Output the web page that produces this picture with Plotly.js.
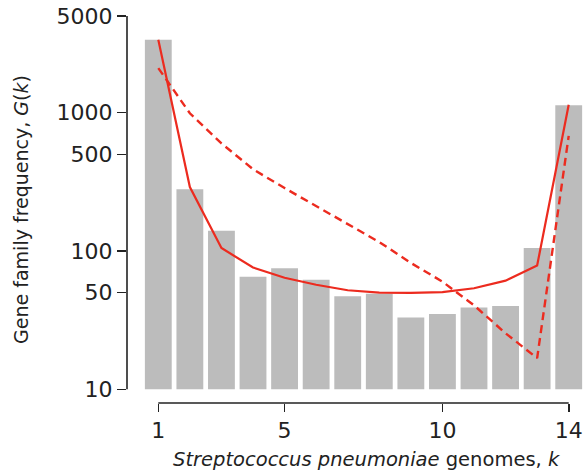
<!DOCTYPE html>
<html>
<head>
<meta charset="utf-8">
<script src="https://cdn.plot.ly/plotly-3.0.1.min.js"></script>
<style>html,body{margin:0;padding:0;background:#fff;}#chart{width:585px;height:473px;}</style>
</head>
<body>
<div id="chart"></div>
<script>
// Data
const k = [1, 2, 3, 4, 5, 6, 7, 8, 9, 10, 11, 12, 13, 14];
const observed = [3370, 280, 140, 65, 75, 62, 47, 49, 33, 35, 39, 40, 105, 1130];
const modelSolid = [3370, 290, 105, 76, 64, 57, 52, 50, 49.8, 50.5, 53.8, 61, 78.5, 1140];
const modelDashed = [2100, 990, 600, 390, 285, 212, 157, 116, 82, 60, 40.5, 25.4, 16.8, 680];
const yTicks = [10, 50, 100, 500, 1000, 5000];
const xTicks = [1, 5, 10, 14];
const barBase = 10;
const xTitle = '<i>Streptococcus pneumoniae</i> genomes, <i>k</i>';
const yTitle = 'Gene family frequency, <i>G</i>(<i>k</i>)';

const red = '#ec2b1f';
const ink = '#222222';

const traces = [
  {
    type: 'bar', x: k, y: observed.map(v => v - barBase), base: barBase,
    width: 0.85, marker: {color: '#bcbcbc', line: {width: 0}}, hoverinfo: 'skip'
  },
  {
    type: 'scatter', mode: 'lines', x: k, y: modelSolid,
    line: {color: red, width: 2.2}, hoverinfo: 'skip'
  },
  {
    type: 'scatter', mode: 'lines', x: k, y: modelDashed,
    line: {color: red, width: 2.4, dash: '8px,5px'}, hoverinfo: 'skip'
  }
];

const layout = {
  width: 585, height: 473,
  margin: {l: 127, r: 0, t: 16, b: 70},
  paper_bgcolor: '#fff', plot_bgcolor: '#fff',
  showlegend: false,
  font: {family: 'DejaVu Sans, sans-serif', color: ink},
  xaxis: {
    range: [0.0086, 14.516], tickvals: xTicks, ticktext: xTicks.map(String),
    ticks: 'outside', ticklen: 8, tickwidth: 1.6, tickcolor: ink,
    showline: false, showgrid: false, zeroline: false,
    tickfont: {size: 22, color: ink}
  },
  yaxis: {
    type: 'log', range: [0.901, Math.log10(5000)],
    tickvals: yTicks, ticktext: yTicks.map(String),
    ticks: 'outside', ticklen: 9, tickwidth: 1.6, tickcolor: ink,
    showline: false, showgrid: false, zeroline: false,
    tickfont: {size: 22, color: ink},
    title: {text: yTitle, font: {size: 19, color: ink}, standoff: 22}
  },
  annotations: [
    {text: xTitle, xref: 'paper', yref: 'paper', x: 0.524, y: -0.147,
     xanchor: 'center', yanchor: 'middle', showarrow: false,
     font: {size: 19.5, color: ink}}
  ],
  shapes: [
    {type: 'line', xref: 'paper', yref: 'y', x0: 0, x1: 0,
     y0: yTicks[0], y1: yTicks[yTicks.length - 1],
     line: {color: ink, width: 1.6}},
    {type: 'line', xref: 'x', yref: 'paper', x0: xTicks[0], x1: xTicks[xTicks.length - 1],
     y0: 0, y1: 0, line: {color: ink, width: 1.6}}
  ]
};

Plotly.newPlot('chart', traces, layout, {staticPlot: true, displayModeBar: false});
</script>
</body>
</html>
